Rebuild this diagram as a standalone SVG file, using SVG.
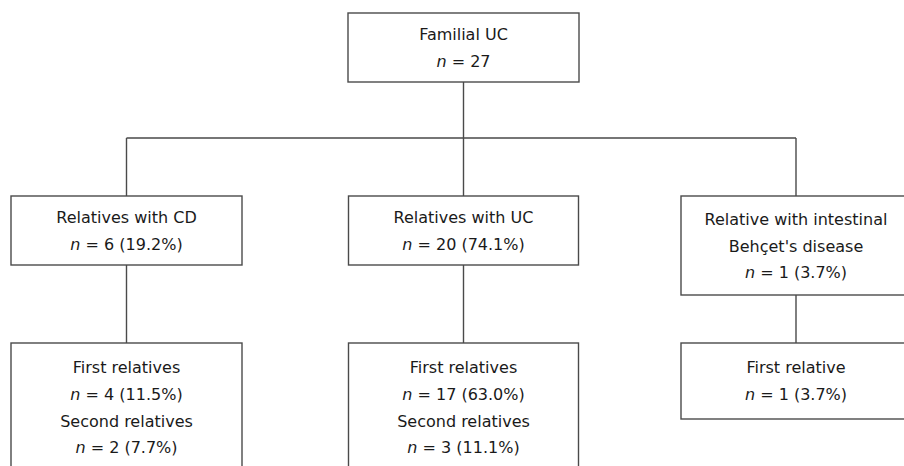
<svg xmlns="http://www.w3.org/2000/svg" width="904" height="466" viewBox="0 0 904 466">
<style>
.box{fill:#fff;stroke:#4a4a4a;stroke-width:1.4}
.ln{fill:none;stroke:#4a4a4a;stroke-width:1.4}
text{font-family:"DejaVu Sans",Verdana,sans-serif;font-size:16px;fill:#1a1a1a;text-anchor:middle}
.i{font-style:italic}
</style>
<rect width="904" height="466" fill="#fff"/>
<g id="connectors">
<path class="ln" d="M463.5 82V138M126.5 138H796M126.5 138V196M463.5 138V196M796 138V196"/>
<path class="ln" d="M126.5 265V343M463.5 265V343M796 295V343"/>
</g>
<g id="familial">
<rect class="box" x="348" y="13" width="231" height="69"/>
<text x="463.5" y="40">Familial UC</text>
<text x="463.5" y="67"><tspan class="i">n</tspan> = 27</text>
</g>
<g id="cd">
<rect class="box" x="11" y="196" width="231" height="69"/>
<text x="126.5" y="223">Relatives with CD</text>
<text x="126.5" y="250"><tspan class="i">n</tspan> = 6 (19.2%)</text>
</g>
<g id="uc">
<rect class="box" x="348.5" y="196" width="230" height="69"/>
<text x="463.5" y="223">Relatives with UC</text>
<text x="463.5" y="250"><tspan class="i">n</tspan> = 20 (74.1%)</text>
</g>
<g id="behcet">
<rect class="box" x="681" y="196" width="230" height="99"/>
<text x="796" y="225">Relative with intestinal</text>
<text x="796" y="252">Behçet's disease</text>
<text x="796" y="278"><tspan class="i">n</tspan> = 1 (3.7%)</text>
</g>
<g id="cd-relatives">
<rect class="box" x="11" y="343" width="231" height="140"/>
<text x="126.5" y="373">First relatives</text>
<text x="126.5" y="400"><tspan class="i">n</tspan> = 4 (11.5%)</text>
<text x="126.5" y="427">Second relatives</text>
<text x="126.5" y="453"><tspan class="i">n</tspan> = 2 (7.7%)</text>
</g>
<g id="uc-relatives">
<rect class="box" x="348.5" y="343" width="230" height="140"/>
<text x="463.5" y="373">First relatives</text>
<text x="463.5" y="400"><tspan class="i">n</tspan> = 17 (63.0%)</text>
<text x="463.5" y="427">Second relatives</text>
<text x="463.5" y="453"><tspan class="i">n</tspan> = 3 (11.1%)</text>
</g>
<g id="behcet-relative">
<rect class="box" x="681" y="343" width="230" height="76"/>
<text x="796" y="373">First relative</text>
<text x="796" y="400"><tspan class="i">n</tspan> = 1 (3.7%)</text>
</g>
</svg>
